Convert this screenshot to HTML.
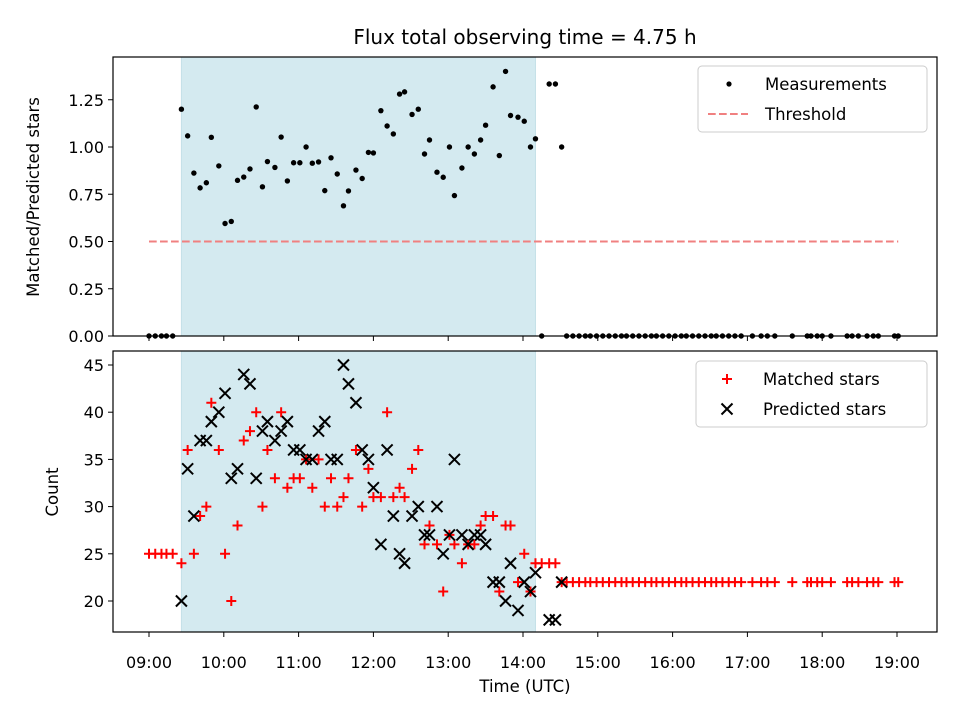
<!DOCTYPE html>
<html><head><meta charset="utf-8"><style>
html,body{margin:0;padding:0;background:#fff;}
svg{display:block;font-family:"DejaVu Sans","Liberation Sans",sans-serif;}
</style></head><body>
<svg id="fig" width="960" height="720" viewBox="0 0 960 720"></svg>
<script>
// times in minutes after 09:00
const times = [0,5,10,14,19,
26,31,36,41,46,50,56,61,66,71,76,81,86,91,95,101,106,111,116,121,126,131,136,141,146,151,156,160,166,171,176,180,186,191,196,201,205,211,216,221,225,231,236,241,245,251,256,261,266,270,276,281,286,290,296,301,306,310,
315,321,326,331,
335,340,345,350,354,359,364,369,374,379,383,388,393,398,403,407,412,417,422,427,431,436,441,446,451,455,460,465,470,475,
484,491,496,502,516,528,531,536,540,547,560,564,569,576,581,585,598,601];
const matched = [25,25,25,25,25,
24,36,25,29,30,41,36,25,20,28,37,38,40,30,36,33,40,32,33,33,35,32,35,30,33,30,31,33,36,30,34,31,31,40,31,32,31,34,36,26,28,26,21,27,26,24,26,26,28,29,29,21,28,28,22,25,21,24,
24,24,24,22,
22,22,22,22,22,22,22,22,22,22,22,22,22,22,22,22,22,22,22,22,22,22,22,22,22,22,22,22,22,22,
22,22,22,22,22,22,22,22,22,22,22,22,22,22,22,22,22,22];
const predicted = [null,null,null,null,null,
20,34,29,37,37,39,40,42,33,34,44,43,33,38,39,37,38,39,36,36,35,35,38,39,35,35,45,43,41,36,35,32,26,36,29,25,24,29,30,27,27,30,25,27,35,27,26,27,27,26,22,22,20,24,19,22,21,23,
null,18,18,22];
const xTickLabels = ["09:00","10:00","11:00","12:00","13:00","14:00","15:00","16:00","17:00","18:00","19:00"];
const ratioTicks = [0,0.25,0.5,0.75,1.0,1.25];
const countTicks = [20,25,30,35,40,45];
const threshold = 0.5;
const shadeStart = 26, shadeEnd = 310; // minutes

const NS="http://www.w3.org/2000/svg";
const svg=document.getElementById('fig');
function mk(tag,attrs,parent){const e=document.createElementNS(NS,tag);for(const k in attrs)e.setAttribute(k,attrs[k]);(parent||svg).appendChild(e);return e;}
const L=113,R=937;
const X=m=>149+(m/60)*74.8;
const T={top:57,bot:336}, B={top:351,bot:632};
const yR=v=>336-v*189;
const yC=v=>601-(v-20)*9.44;

for(const ax of [T,B]){
  const r=mk('rect',{x:X(shadeStart),y:ax.top,width:X(shadeEnd)-X(shadeStart),height:ax.bot-ax.top,fill:'#d4eaf0',stroke:'#c4e0e8','stroke-width':1});
  
  
}
const th=mk('line',{x1:X(0),x2:X(601),y1:yR(threshold),y2:yR(threshold),stroke:'#f08080','stroke-width':2,'stroke-dasharray':'7.7,3.3'});


times.forEach((t,i)=>{
  const p=predicted[i];
  const v=(p!=null)?matched[i]/p:0;
  const c=mk('circle',{cx:X(t),cy:yR(v),r:2.7,fill:'#000'});
  
  
});
times.forEach((t,i)=>{
  const x=X(t),y=yC(matched[i]),s=5;
  const g=mk('path',{d:`M${x-s},${y}H${x+s}M${x},${y-s}V${y+s}`,stroke:'#ff0000','stroke-width':2});
  
  
});
times.forEach((t,i)=>{
  const p=predicted[i]; if(p==null) return;
  const x=X(t),y=yC(p),s=5.5;
  const g=mk('path',{d:`M${x-s},${y-s}L${x+s},${y+s}M${x-s},${y+s}L${x+s},${y-s}`,stroke:'#000','stroke-width':2});
  
  
});
for(const [ax,nm] of [[T,'top-axes-frame'],[B,'bottom-axes-frame']]){
  const f=mk('rect',{x:L,y:ax.top,width:R-L,height:ax.bot-ax.top,fill:'none',stroke:'#000','stroke-width':1.2});
  
  
}
xTickLabels.forEach((lab,i)=>{
  const x=X(i*60);
  mk('line',{x1:x,x2:x,y1:T.bot,y2:T.bot+5,stroke:'#000','stroke-width':1});
  mk('line',{x1:x,x2:x,y1:B.bot,y2:B.bot+5,stroke:'#000','stroke-width':1});
  const t=mk('text',{x:x,y:668,'text-anchor':'middle','font-size':16,fill:'#000'});
  t.textContent=lab;
  
  
});
ratioTicks.forEach(v=>{
  const y=yR(v);
  mk('line',{x1:L-5,x2:L,y1:y,y2:y,stroke:'#000','stroke-width':1});
  const t=mk('text',{x:L-9,y:y+6,'text-anchor':'end','font-size':16,fill:'#000'});
  t.textContent=v.toFixed(2);
  
  
});
countTicks.forEach(v=>{
  const y=yC(v);
  mk('line',{x1:L-5,x2:L,y1:y,y2:y,stroke:'#000','stroke-width':1});
  const t=mk('text',{x:L-9,y:y+6,'text-anchor':'end','font-size':16,fill:'#000'});
  t.textContent=String(v);
  
  
});
</script>
<svg width="960" height="720" style="position:absolute;left:0;top:0">
<g font-family="DejaVu Sans, Liberation Sans, sans-serif" fill="#000">
<text x="525" y="44" text-anchor="middle" font-size="20">Flux total observing time = 4.75 h</text>
<text x="525" y="692" text-anchor="middle" font-size="16.5">Time (UTC)</text>
<text transform="translate(39,197) rotate(-90)" text-anchor="middle" font-size="16.5">Matched/Predicted stars</text>
<text transform="translate(58,492) rotate(-90)" text-anchor="middle" font-size="16.5">Count</text>
<g>
<rect x="698" y="66" width="229" height="66" rx="4" fill="#fff" fill-opacity="0.8" stroke="#ccc"/>
<circle cx="729" cy="84" r="2.6" fill="#000"/>
<line x1="708" x2="748" y1="114" y2="114" stroke="#f08080" stroke-width="2" stroke-dasharray="7.7,3.3"/>
<text x="765" y="90" font-size="16.5">Measurements</text>
<text x="765" y="120" font-size="16.5">Threshold</text>
</g>
<g>
<rect x="696" y="361" width="231" height="66" rx="4" fill="#fff" fill-opacity="0.8" stroke="#ccc"/>
<path d="M722,379H732M727,374V384" stroke="#f00" stroke-width="2"/>
<path d="M721.5,403.5L732.5,414.5M721.5,414.5L732.5,403.5" stroke="#000" stroke-width="2"/>
<text x="763" y="385" font-size="16.5">Matched stars</text>
<text x="763" y="415" font-size="16.5">Predicted stars</text>
</g>
</g>
</svg>
</body></html>
